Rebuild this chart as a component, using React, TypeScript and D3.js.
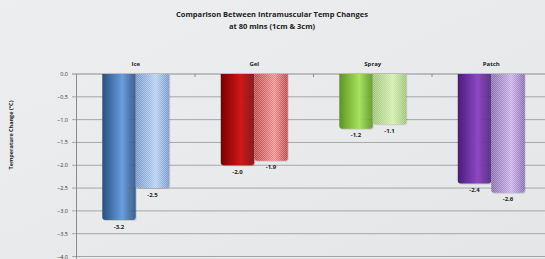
import React from 'react';
import * as d3 from 'd3';

const categories = ['Ice', 'Gel', 'Spray', 'Patch'];
const series = ['1cm', '3cm'];
const values1cm = [-3.2, -2.0, -1.2, -2.4];
const values3cm = [-2.5, -1.9, -1.1, -2.6];
const labels1cm = ['-3.2', '-2.0', '-1.2', '-2.4'];
const labels3cm = ['-2.5', '-1.9', '-1.1', '-2.6'];
const yTicks = [0, -0.5, -1, -1.5, -2, -2.5, -3, -3.5, -4];

// [dark, light] for solid bar, [dark, light] for the textured bar
const palette = [
  { solid: ['#27507f', '#6a9de0'], tex: ['#6f92c8', '#b4cff2'] },
  { solid: ['#7a0000', '#d01818'], tex: ['#b84040', '#ee8a8a'] },
  { solid: ['#5a9620', '#a8e45e'], tex: ['#98c070', '#d2eeac'] },
  { solid: ['#4a1c7c', '#8c48c4'], tex: ['#8266aa', '#c8aee6'] },
];

const W = 545;
const H = 259;
const font = '"Open Sans", "Liberation Sans", sans-serif';

export default function App() {
  const x0 = d3.scaleBand<string>().domain(categories).range([76.5, 550.5])
    .paddingInner(0.435).paddingOuter(0.2175);
  const x1 = d3.scaleBand<string>().domain(series).range([0, x0.bandwidth()]);
  const y = d3.scaleLinear().domain([0, -4]).range([74, 256.5]);
  const fmt = d3.format('.1f');

  const bars: any[] = [];
  categories.forEach((c, i) => {
    [values1cm[i], values3cm[i]].forEach((v, j) => {
      bars.push({ c, i, j, v, label: j === 0 ? labels1cm[i] : labels3cm[i] });
    });
  });

  return (
    <svg width={W} height={H} style={{ position: 'absolute', left: 0, top: 0 }} fontFamily={font}>
      <defs>
        <linearGradient id="bg" x1="0" y1="0" x2="1" y2="1">
          <stop offset="0" stopColor="#eceef0" />
          <stop offset="1" stopColor="#e4e6e8" />
        </linearGradient>
        {palette.map((p, i) => (
          <React.Fragment key={i}>
            <linearGradient id={`s${i}`} x1="0" x2="1" y1="0" y2="0">
              <stop offset="0" stopColor={p.solid[0]} />
              <stop offset="0.6" stopColor={p.solid[1]} />
              <stop offset="1" stopColor={p.solid[0]} stopOpacity={0.85} />
            </linearGradient>
            <linearGradient id={`t${i}`} x1="0" x2="1" y1="0" y2="0">
              <stop offset="0" stopColor={p.tex[0]} />
              <stop offset="0.6" stopColor={p.tex[1]} />
              <stop offset="1" stopColor={p.tex[0]} />
            </linearGradient>
          </React.Fragment>
        ))}
        <pattern id="checker" width="2" height="2" patternUnits="userSpaceOnUse">
          <rect x="0" y="0" width="1" height="1" fill="#ffffff" fillOpacity={0.3} />
          <rect x="1" y="1" width="1" height="1" fill="#ffffff" fillOpacity={0.3} />
        </pattern>
      </defs>
      <rect width={W} height={H} fill="url(#bg)" />

      <text x={272} y={17} textAnchor="middle" fontSize={7.5} fontWeight="bold" fill="#222">
        Comparison Between Intramuscular Temp Changes
      </text>
      <text x={272} y={29} textAnchor="middle" fontSize={7.5} fontWeight="bold" fill="#222">
        at 80 mins (1cm &amp; 3cm)
      </text>

      <text transform="translate(13,135) rotate(-90)" textAnchor="middle" fontSize={5.5} fontWeight="bold" fill="#222">
        Temperature Change (°C)
      </text>

      {yTicks.map((t) => (
        <g key={t}>
          <line x1={72} x2={W} y1={y(t)} y2={y(t)} stroke={t === 0 ? '#8a8c8e' : '#a4a6a8'} strokeWidth={1} />
          <text x={68} y={y(t) + 2} textAnchor="end" fontSize={5.5} fill="#333">{fmt(t)}</text>
        </g>
      ))}
      <line x1={76.5} x2={76.5} y1={74} y2={H} stroke="#8a8c8e" />
      {categories.slice(0, -1).map((c) => {
        const xe = (x0(c) as number) + x0.bandwidth() + x0.step() * 0.435 / 2;
        return <line key={c} x1={xe} x2={xe} y1={74} y2={77} stroke="#8a8c8e" />;
      })}

      {categories.map((c) => (
        <text key={c} x={(x0(c) as number) + x0.bandwidth() / 2} y={66} textAnchor="middle" fontSize={6} fontWeight="bold" fill="#222">
          {c}
        </text>
      ))}

      {bars.map((b) => {
        const bx = (x0(b.c) as number) + (x1(series[b.j]) as number);
        const bw = x1.bandwidth();
        const top = y(0);
        const bot = y(b.v);
        const r = 3;
        const d = `M${bx},${top} H${bx + bw} V${bot - r} Q${bx + bw},${bot} ${bx + bw - r},${bot} H${bx + r} Q${bx},${bot} ${bx},${bot - r} Z`;
        return (
          <g key={`${b.c}-${b.j}`}>
            <path d={d} fill="#000" fillOpacity={0.12} transform="translate(1,1)" />
            <path d={d} fill={`url(#${b.j === 0 ? 's' : 't'}${b.i})`} />
            {b.j === 1 && <path d={d} fill="url(#checker)" />}
            <text x={bx + bw / 2} y={bot + 8.5} textAnchor="middle" fontSize={6} fontWeight="bold" fill="#222">
              {b.label}
            </text>
          </g>
        );
      })}
    </svg>
  );
}
